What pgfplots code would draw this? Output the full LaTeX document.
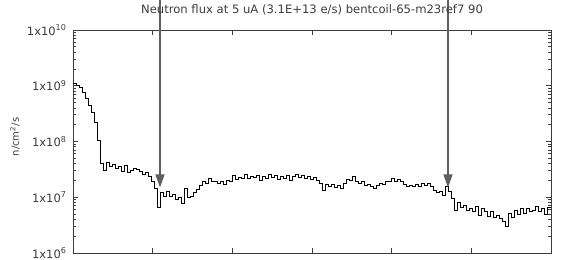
\documentclass[border=0pt]{standalone}
\usepackage{fontspec}
\setmainfont{DejaVu Sans}
\usepackage{pgfplots}
\pgfplotsset{compat=1.18}
\usetikzlibrary{arrows.meta}
\definecolor{axgray}{RGB}{60,60,60}
\definecolor{arrgray}{RGB}{95,95,95}
\begin{document}
\begin{tikzpicture}
\path[use as bounding box] (-73pt,-7pt) rectangle (498pt,253pt);
\begin{axis}[
  at={(0,0)}, anchor=south west,
  scale only axis, width=478pt, height=223pt,
  ymode=log, xmin=0, xmax=478, ymin=1e6, ymax=1e10,
  xtick={0,79.667,159.333,239,318.667,398.333,478}, xticklabels={},
  ytick={1e6,1e7,1e8,1e9,1e10},
  yticklabels={1x10\textsuperscript{6},1x10\textsuperscript{7},1x10\textsuperscript{8},1x10\textsuperscript{9},1x10\textsuperscript{10}},
  axis line style={axgray, line width=0.8pt},
  every tick/.style={axgray, line width=0.8pt},
  major tick length=5pt, minor tick length=3pt,
  tick label style={font=\fontsize{11.5}{13}\selectfont, text=axgray},
  yticklabel style={xshift=-3pt},
  title={Neutron flux at 5 uA (3.1E+13 e/s) bentcoil-65-m23ref7 90},
  title style={font=\fontsize{11.6}{13}\selectfont, text=axgray, at={(axis description cs:0.5,1)}, anchor=base, yshift=10pt},
  ylabel={n/cm\textsuperscript{2}/s},
  ylabel style={font=\fontsize{10}{12}\selectfont, text=axgray, at={(axis description cs:-0.1213,0.52)}, anchor=center},
  clip=false,
]
\addplot[const plot, black, line width=0.7pt] coordinates {
(0,1.12e9) (3,1.0e9) (6,9.5e8) (9,7.7e8) (12,6.0e8) (15,4.5e8) (18,3.4e8) (21,2.2e8) (24,1.05e8)
(27,4.1e7) (30,3.1e7) (33,4.3e7) (36,3.6e7) (39,3.9e7) (42,3.3e7) (45,3.6e7) (48,2.9e7) (51,3.8e7)
(54,2.8e7) (57,3.1e7) (60,3.3e7) (63,3.2e7) (66,2.9e7) (69,2.6e7) (72,2.8e7) (75,2.4e7) (78,1.9e7)
(81,1.47e7) (84,6.7e6) (87,1.2e7) (90,1.05e7) (93,1.3e7) (96,1.05e7) (99,1.12e7) (102,9.2e6) (105,1.0e7)
(108,7.8e6) (111,1.47e7) (114,1.0e7) (117,1.05e7) (120,1.2e7) (123,1.4e7) (126,1.66e7) (129,1.95e7) (132,1.8e7)
(135,2.2e7) (138,1.9e7) (141,1.95e7) (144,1.8e7) (147,1.9e7) (150,1.7e7) (153,2.05e7) (156,1.95e7) (159,2.5e7)
(162,2.1e7) (165,2.3e7) (168,2.2e7) (171,2.6e7) (174,2.2e7) (177,2.4e7) (180,2.3e7) (183,2.5e7) (186,2.05e7)
(189,2.4e7) (192,2.2e7) (195,2.6e7) (198,2.3e7) (201,2.5e7) (204,2.1e7) (207,2.4e7) (210,2.2e7) (213,2.5e7)
(216,2.05e7) (219,2.4e7) (222,2.6e7) (225,2.3e7) (228,2.5e7) (231,2.2e7) (234,2.4e7) (237,2.1e7) (240,2.3e7)
(243,2.05e7) (246,1.8e7) (249,1.35e7) (252,1.7e7) (255,1.6e7) (258,1.7e7) (261,1.52e7) (264,1.66e7) (267,1.47e7)
(270,1.8e7) (273,2.1e7) (276,2.05e7) (279,2.4e7) (282,1.95e7) (285,1.8e7) (288,1.9e7) (291,1.66e7) (294,1.7e7)
(297,1.6e7) (300,1.47e7) (303,1.66e7) (306,1.8e7) (309,1.7e7) (312,1.9e7) (315,1.95e7) (318,2.2e7) (321,1.95e7)
(324,2.1e7) (327,1.9e7) (330,1.7e7) (333,1.6e7) (336,1.66e7) (339,1.6e7) (342,1.7e7) (345,1.6e7) (348,1.8e7)
(351,1.66e7) (354,1.8e7) (357,1.6e7) (360,1.35e7) (363,1.2e7) (366,1.3e7) (369,1.1e7) (372,1.6e7) (375,1.3e7)
(378,9.6e6) (381,5.9e6) (384,8.1e6) (387,6.7e6) (390,7.2e6) (393,5.9e6) (396,6.4e6) (399,5.7e6) (402,6.9e6)
(405,4.8e6) (408,6.2e6) (411,5.5e6) (414,4.5e6) (417,5.7e6) (420,4.3e6) (423,4.8e6) (426,4.1e6) (429,3.7e6)
(432,3.0e6) (435,5.2e6) (438,4.3e6) (441,5.9e6) (444,5.0e6) (447,6.2e6) (450,5.2e6) (453,6.2e6) (456,5.7e6)
(459,5.9e6) (462,6.9e6) (465,5.5e6) (468,6.4e6) (471,5.0e6) (474,6.7e6) (478,6.7e6)
};
\draw[arrgray, line width=1.6pt, -{Triangle[width=9pt,length=13pt]}] (axis cs:87,3.5e10) -- (axis cs:87,1.5e7);
\draw[arrgray, line width=1.6pt, -{Triangle[width=9pt,length=13pt]}] (axis cs:375,3.5e10) -- (axis cs:375,1.5e7);
\end{axis}
\end{tikzpicture}
\end{document}
